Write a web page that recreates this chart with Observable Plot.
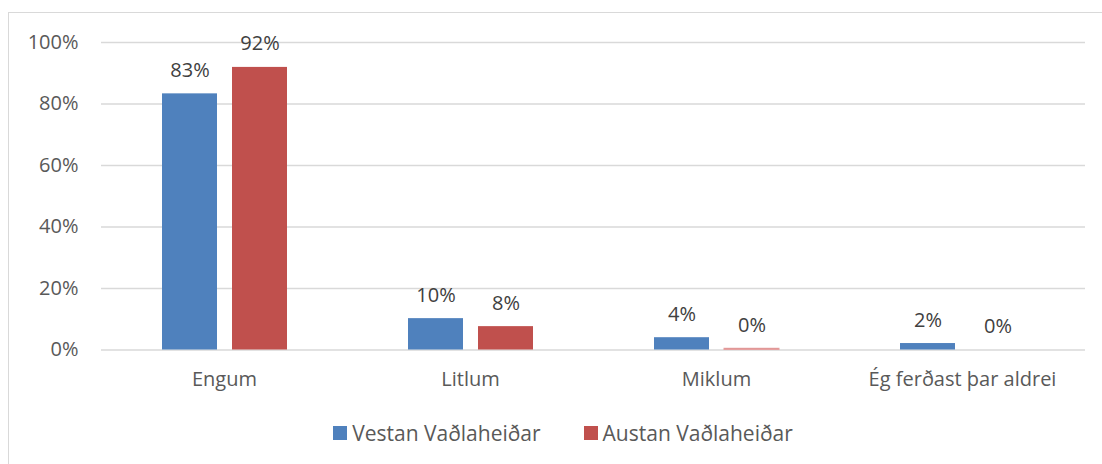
<!DOCTYPE html>
<html><head><meta charset="utf-8">
<script src="https://cdn.jsdelivr.net/npm/d3@7"></script>
<script src="https://cdn.jsdelivr.net/npm/@observablehq/plot@0.6"></script>
<style>
body{margin:0;background:#fff;}
#wrap{position:relative;width:1102px;height:464px;overflow:hidden;font-family:"Open Sans",sans-serif;}
#frame{position:absolute;left:8px;top:12px;width:1200px;height:600px;border:1.5px solid #D9D9D9;box-sizing:border-box;}
#chart{position:absolute;left:0;top:0;}
#legend{position:absolute;left:0;width:1126px;top:419px;display:flex;justify-content:center;gap:43px;font-size:21px;color:#595959;}
#legend span.item{display:flex;align-items:center;}
#legend span.sw{display:inline-block;width:14px;height:14px;margin-right:5px;}
</style></head>
<body><div id="wrap"><div id="frame"></div><div id="chart"></div><div id="legend"></div></div>
<script>
const categories = ["Engum", "Litlum", "Miklum", "Ég ferðast þar aldrei"];
const series = ["Vestan Vaðlaheiðar", "Austan Vaðlaheiðar"];
const vestan = [83.3, 10.2, 4.0, 2.1];
const austan = [91.9, 7.6, 0.4, 0];
const colors = ["#4F81BD", "#C0504D"];
const yTicks = [0, 20, 40, 60, 80, 100];

const data = [];
categories.forEach((c, i) => {
  data.push({cat: c, s: series[0], v: vestan[i]});
  data.push({cat: c, s: series[1], v: austan[i]});
});

const chart = Plot.plot({
  width: 1102,
  height: 400,
  marginLeft: 101,
  marginRight: 17,
  marginTop: 42,
  marginBottom: 50.5,
  style: {fontFamily: "'Open Sans', sans-serif", fontSize: "20px", color: "#595959", background: "transparent"},
  fx: {domain: categories, padding: 0, label: null, axis: null},
  x: {domain: series, paddingInner: 0.2143, paddingOuter: 0.864, axis: null},
  y: {domain: [0, 100], ticks: yTicks, label: null},
  color: {domain: series, range: colors},
  marks: [
    Plot.ruleY(yTicks, {stroke: "#D9D9D9", strokeWidth: 1.5}),
    Plot.axisY({ticks: yTicks, tickSize: 0, tickPadding: 23, tickFormat: d => d + "%", fill: "#595959", fontSize: 20}),
    Plot.axisFx({anchor: "bottom", tickSize: 0, tickPadding: 22, fill: "#595959", fontSize: 20, label: null}),
    Plot.barY(data, {fx: "cat", x: "s", y: "v", fill: "s", stroke: d => d.v < 1 ? "#E6A0A0" : "none"}),
    Plot.text(data, {fx: "cat", x: "s", y: "v", text: d => Math.round(d.v) + "%", lineAnchor: "bottom", dy: -17, fill: "#404040", fontSize: 20})
  ]
});
document.getElementById("chart").appendChild(chart);

const leg = document.getElementById("legend");
series.forEach((s, i) => {
  const it = document.createElement("span");
  it.className = "item";
  it.innerHTML = `<span class="sw" style="background:${colors[i]}"></span>${s}`;
  leg.appendChild(it);
});
</script></body></html>
